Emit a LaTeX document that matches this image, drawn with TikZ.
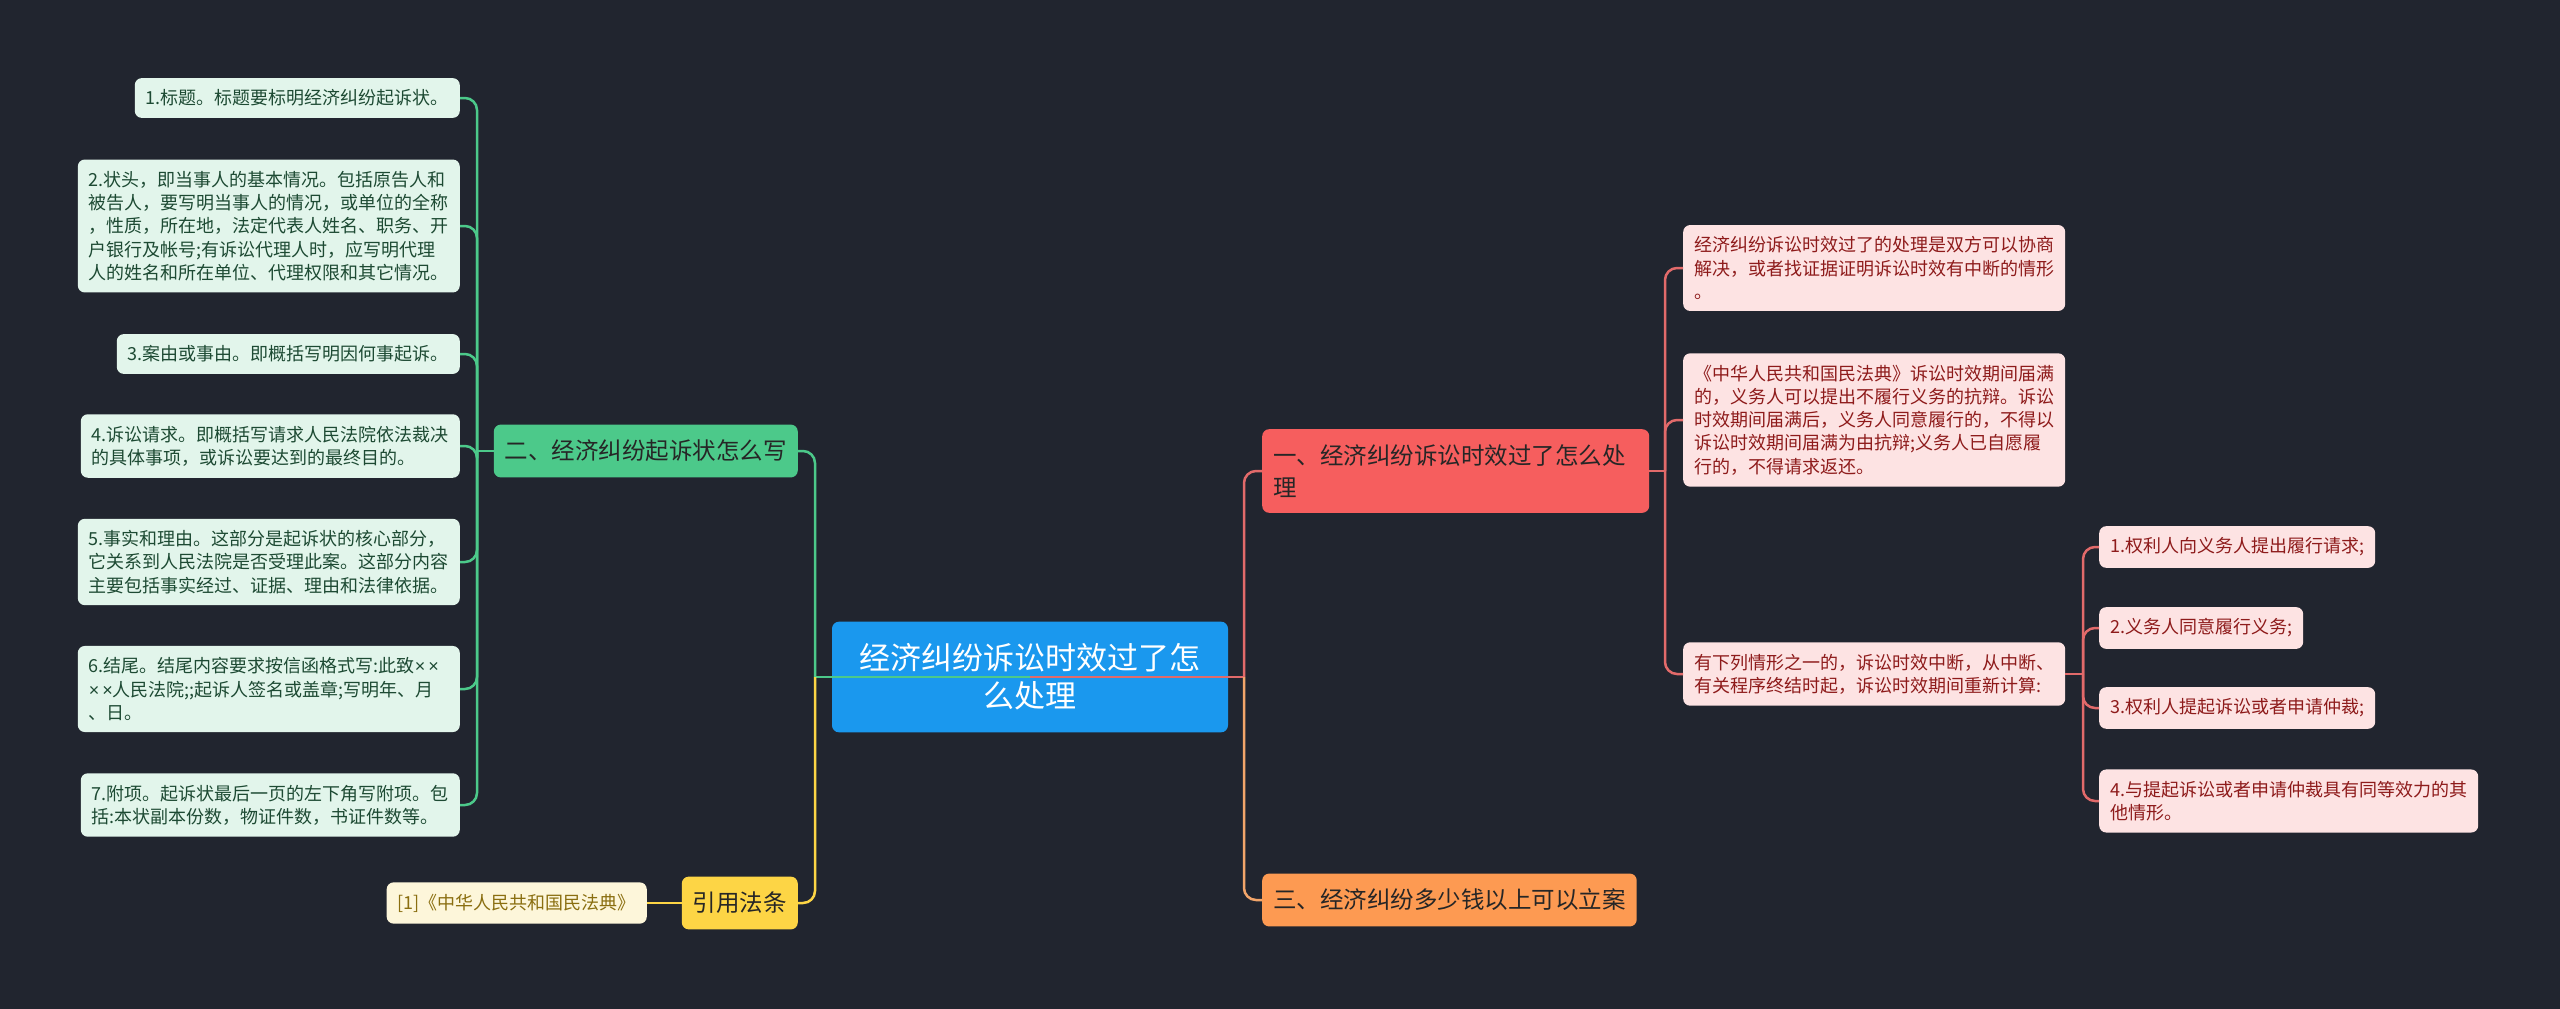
\documentclass[tikz,border=0pt]{standalone}
\usepackage{fontspec}
\setmainfont{Noto Sans CJK SC}
\newfontfamily\latinfont{Liberation Sans}
\newcommand{\xx}{{\latinfont ×}}

\definecolor{bg}{HTML}{21252F}
\definecolor{mainblue}{HTML}{1A98EE}
\definecolor{grn}{HTML}{4CC98A}
\definecolor{grnleaf}{HTML}{E2F5EB}
\definecolor{grntext}{HTML}{1D4A33}
\definecolor{redtopic}{HTML}{F65E5E}
\definecolor{redline}{HTML}{E26A6A}
\definecolor{redleaf}{HTML}{FDE3E3}
\definecolor{redtext}{HTML}{8E1B1B}
\definecolor{orn}{HTML}{FD9A52}
\definecolor{ornline}{HTML}{F2A56A}
\definecolor{ylw}{HTML}{FDD545}
\definecolor{ylwleaf}{HTML}{FDF6DA}
\definecolor{ylwtext}{HTML}{8A6E10}

\tikzset{
  leaf/.style={rounded corners=7pt,inner xsep=11pt,inner ysep=11.5pt,align=left,
    font=\fontsize{18}{23.3}\selectfont},
  gleaf/.style={leaf,fill=grnleaf,text=grntext},
  rleaf/.style={leaf,fill=redleaf,text=redtext},
  yleaf/.style={leaf,fill=ylwleaf,text=ylwtext},
  topic/.style={rounded corners=7pt,inner xsep=11pt,inner ysep=15.5pt,align=left,
    font=\fontsize{23.5}{31.7}\selectfont,text=black!85},
  mainbox/.style={rounded corners=7pt,fill=mainblue,text=white,align=center,
    inner xsep=26pt,inner ysep=22pt,minimum width=396pt,
    font=\fontsize{31}{38}\selectfont},
  gedge/.style={draw=grn,line width=2.5pt,rounded corners=12pt},
  redge/.style={draw=redline,line width=2.5pt,rounded corners=12pt},
  oedge/.style={draw=ornline,line width=2.5pt,rounded corners=12pt},
  yedge/.style={draw=ylw,line width=2.5pt,rounded corners=12pt},
}

\begin{document}
\begin{tikzpicture}[x=1pt,y=-1pt]
  \fill[bg] (0,0) rectangle (2560,1009);
  \useasboundingbox (0,0) rectangle (2560,1009);

  % centre
  \node [mainbox] (main) at (1030,677) {经济纠纷诉讼时效过了怎\\么处理};
  \coordinate (lj) at (815,677);
  \coordinate (rj) at (1244,677);

  % topics
  \node [topic,fill=grn,anchor=east] (er) at (798,451) {二、经济纠纷起诉状怎么写};
  \node [topic,fill=ylw,anchor=east] (yin) at (798,903) {引用法条};
  \node [topic,fill=redtopic,anchor=west,text width=365pt] (yi) at (1262,471)
    {一、经济纠纷诉讼时效过了怎么处\\理};
  \node [topic,fill=orn,anchor=west] (san) at (1262,900) {三、经济纠纷多少钱以上可以立案};

  % left leaves
  \node [gleaf,anchor=east] (g1) at (460,98) {1.标题。标题要标明经济纠纷起诉状。};
  \node [gleaf,anchor=east] (g2) at (460,226) {2.状头，即当事人的基本情况。包括原告人和\\被告人，要写明当事人的情况，或单位的全称\\，性质，所在地，法定代表人姓名、职务、开\\户银行及帐号;有诉讼代理人时，应写明代理\\人的姓名和所在单位、代理权限和其它情况。};
  \node [gleaf,anchor=east] (g3) at (460,354) {3.案由或事由。即概括写明因何事起诉。};
  \node [gleaf,anchor=east] (g4) at (460,446) {4.诉讼请求。即概括写请求人民法院依法裁决\\的具体事项，或诉讼要达到的最终目的。};
  \node [gleaf,anchor=east] (g5) at (460,562) {5.事实和理由。这部分是起诉状的核心部分，\\它关系到人民法院是否受理此案。这部分内容\\主要包括事实经过、证据、理由和法律依据。};
  \node [gleaf,anchor=east,text width=360pt] (g6) at (460,689) {6.结尾。结尾内容要求按信函格式写:此致\xx\,\xx\\\xx\,\xx 人民法院;;起诉人签名或盖章;写明年、月\\、日。};
  \node [gleaf,anchor=east] (g7) at (460,805) {7.附项。起诉状最后一页的左下角写附项。包\\括:本状副本份数，物证件数，书证件数等。};
  \node [yleaf,anchor=east] (ref) at (647,903) {[1]《中华人民共和国民法典》};

  % right leaves
  \node [rleaf,anchor=west] (ra) at (1683,268) {经济纠纷诉讼时效过了的处理是双方可以协商\\解决，或者找证据证明诉讼时效有中断的情形\\。};
  \node [rleaf,anchor=west] (rb) at (1683,420) {《中华人民共和国民法典》诉讼时效期间届满\\的，义务人可以提出不履行义务的抗辩。诉讼\\时效期间届满后，义务人同意履行的，不得以\\诉讼时效期间届满为由抗辩;义务人已自愿履\\行的，不得请求返还。};
  \node [rleaf,anchor=west] (rc) at (1683,674) {有下列情形之一的，诉讼时效中断，从中断、\\有关程序终结时起，诉讼时效期间重新计算:};

  \node [rleaf,anchor=west] (c1) at (2099,547) {1.权利人向义务人提出履行请求;};
  \node [rleaf,anchor=west] (c2) at (2099,628) {2.义务人同意履行义务;};
  \node [rleaf,anchor=west] (c3) at (2099,708) {3.权利人提起诉讼或者申请仲裁;};
  \node [rleaf,anchor=west] (c4) at (2099,801) {4.与提起诉讼或者申请仲裁具有同等效力的其\\他情形。};

  % connectors
  \draw [gedge] (main.center) -- (lj);
  \draw [gedge] (lj) |- (er.east);
  \draw [yedge] (lj) |- (yin.east);
  \draw [yedge] (yin.west) -- (ref.east);
  \draw [redge] (main.center) -- (rj);
  \draw [redge] (rj) |- (yi.west);
  \draw [oedge] (rj) |- (san.west);

  \coordinate (gt) at (477,451);
  \draw [gedge] (er.west) -- (gt);
  \foreach \i in {1,...,7}
  {
    \draw [gedge] (gt) |- (g\i.east);
  }

  \coordinate (rt) at (1665,471);
  \draw [redge] (yi.east) -- (rt);
  \foreach \n in {ra,rb,rc}
  {
    \draw [redge] (rt) |- (\n.west);
  }

  \coordinate (ct) at (2083,674);
  \draw [redge] (rc.east) -- (ct);
  \foreach \i in {1,...,4}
  {
    \draw [redge] (ct) |- (c\i.west);
  }
\end{tikzpicture}
\end{document}
